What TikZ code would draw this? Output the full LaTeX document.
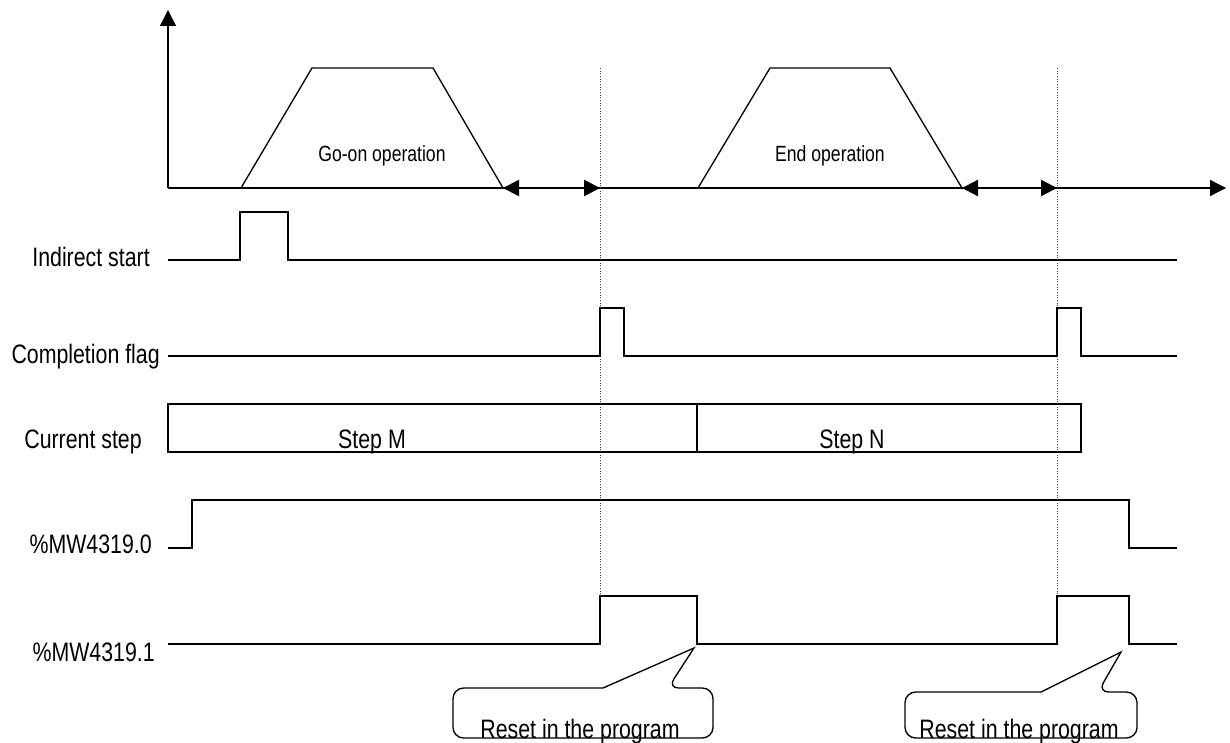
\documentclass[tikz,border=0pt]{standalone}
\usepackage{fontspec}
\setmainfont{Liberation Sans}[FakeStretch=0.8]
\usetikzlibrary{arrows.meta}

\begin{document}
\begin{tikzpicture}[
        x=0.75pt, y=-0.75pt,
        >={Triangle[length=12pt,width=12pt]},
        % styles
        signal/.style={line width=1pt, line join=miter},
        axisline/.style={line width=1pt, ->},
        gap/.style={line width=1.8pt, <->},
        guide/.style={line width=0.6pt, black!75, dash pattern=on 0.8pt off 1.2pt},
        sigtext/.style={font=\fontsize{20}{24}\selectfont, anchor=base east, inner sep=0pt},
        optext/.style={font=\fontsize{16.5}{20}\selectfont, anchor=base, inner sep=0pt},
        steptext/.style={font=\fontsize{20}{24}\selectfont, anchor=base, inner sep=0pt},
        bubble/.style={line width=1pt, rounded corners=8pt}
    ]
    \useasboundingbox (0,0) rectangle (1230,742);

    % --- 1. TIME AXES ---
    \coordinate (O) at (168,188);
    \coordinate (ytip) at (168,10);
    \coordinate (xtip) at (1226,188);
    \draw[axisline] (O) -- (ytip);
    \draw[axisline] (O) -- (xtip);

    % --- 2. OPERATIONS ---
    \draw[signal] (241,188) -- (312,68) -- (433,68) -- (503,188);
    \node[optext] (txtgo) at (382,161) {Go-on operation};
    \draw[signal] (698,188) -- (770,68) -- (890,68) -- (962,188);
    \node[optext] (txtend) at (830,161) {End operation};

    \coordinate (gapa) at (503,188);
    \coordinate (gapb) at (600,188);
    \coordinate (gapc) at (962,188);
    \coordinate (gapd) at (1057,188);
    \draw[gap] (gapa) -- (gapb);
    \draw[gap] (gapc) -- (gapd);

    % --- 3. GUIDE LINES ---
    \draw[guide] (600,68) -- (600,596);
    \draw[guide] (1057,68) -- (1057,596);

    % --- 4. SIGNALS ---
    \node[sigtext] (lblstart) at (150,266) {Indirect start};
    \draw[signal] (168,260) -- (240,260) -- (240,212) -- (288,212) -- (288,260) -- (1177,260);

    \node[sigtext] (lblflag) at (160,363) {Completion flag};
    \draw[signal] (168,356) -- (600,356) -- (600,308) -- (624,308) -- (624,356)
        -- (1057,356) -- (1057,308) -- (1081,308) -- (1081,356) -- (1177,356);

    \node[sigtext] (lblstep) at (142,448) {Current step};
    \draw[signal] (168,404) rectangle (1081,452);
    \draw[signal] (697,404) -- (697,452);
    \node[steptext] (txtm) at (372,448) {Step M};
    \node[steptext] (txtn) at (852,448) {Step N};

    \node[sigtext] (lblmw0) at (152,553) {\%MW4319.0};
    \draw[signal] (168,548) -- (192,548) -- (192,500) -- (1129,500) -- (1129,548) -- (1177,548);

    \node[sigtext] (lblmw1) at (155,661) {\%MW4319.1};
    \draw[signal] (168,644) -- (600,644) -- (600,596) -- (697,596) -- (697,644)
        -- (1057,644) -- (1057,596) -- (1129,596) -- (1129,644) -- (1177,644);

    % --- 5. CALLOUTS ---
    \node[steptext] (rst1) at (580,738) {Reset in the program};
    \draw[bubble] (603,688) -- (453,688) -- (453,738) -- (713,738) -- (713,688)
        -- (668,688) [sharp corners] -- (694,648) -- cycle;

    \node[steptext] (rst2) at (1019,738) {Reset in the program};
    \draw[bubble] (1041,692) -- (905,692) -- (905,738) -- (1137,738) -- (1137,692)
        -- (1098,692) [sharp corners] -- (1121,652) -- cycle;

\end{tikzpicture}
\end{document}
